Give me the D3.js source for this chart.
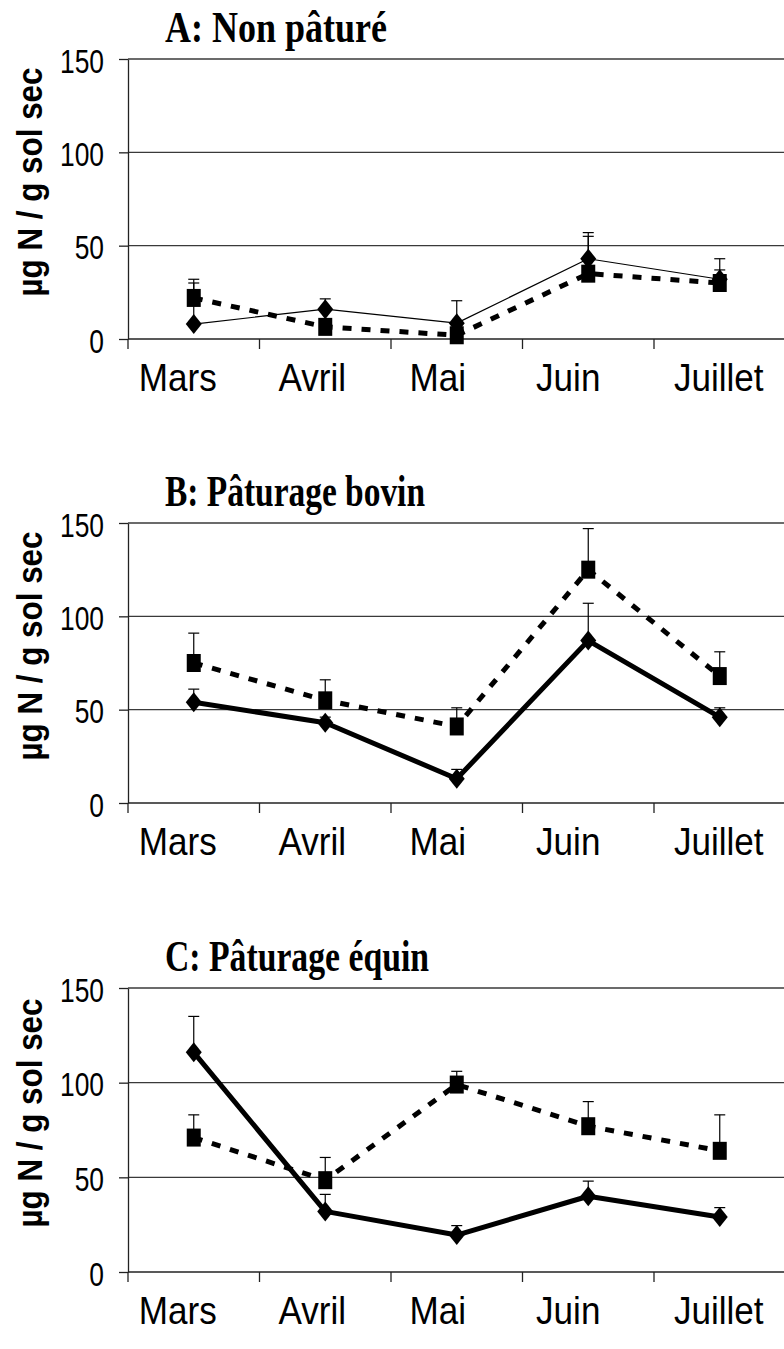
<!DOCTYPE html>
<html>
<head>
<meta charset="utf-8">
<script src="https://cdn.jsdelivr.net/npm/d3@7"></script>
<style>
  html, body { margin: 0; padding: 0; background: #fff; }
  svg { display: block; }
</style>
</head>
<body>
<div id="chart"></div>
<script>
// catégories et graduations
const months = ['Mars', 'Avril', 'Mai', 'Juin', 'Juillet']
const yTicks = [0, 50, 100, 150]
const panelTitles = ['A: Non pâturé', 'B: Pâturage bovin', 'C: Pâturage équin']
const yLabel = 'µg N / g sol sec'

// série losange (trait plein)
const diamondA = [8, 16, 8.5, 43, 32]
const diamondAErr = [22, 5.5, 12, 14, 5]
const diamondB = [54, 43, 13, 87, 46]
const diamondBErr = [7, 3, 5, 20, 5]
const diamondC = [116, 32, 19.5, 40, 29]
const diamondCErr = [19, 9, 5, 8, 5]

// série carré (pointillés)
const squareA = [22, 6.5, 2, 35, 30]
const squareAErr = [10, 3, 2, 20, 13]
const squareB = [75, 55, 41, 125, 68]
const squareBErr = [16, 11, 10, 22, 13]
const squareC = [71, 48.5, 99, 77, 64]
const squareCErr = [12, 12, 7, 13, 19]

const panels = [
  { title: panelTitles[0], titleLen: 222, dia: diamondA, diaErr: diamondAErr, sq: squareA, sqErr: squareAErr, diaWidth: 1.2 },
  { title: panelTitles[1], titleLen: 260, dia: diamondB, diaErr: diamondBErr, sq: squareB, sqErr: squareBErr, diaWidth: 5 },
  { title: panelTitles[2], titleLen: 264, dia: diamondC, diaErr: diamondCErr, sq: squareC, sqErr: squareCErr, diaWidth: 5 }
]

const width = 784, height = 1349
const plotLeft = 128
const plotTops = [59, 523, 988]
const plotBottoms = [339, 803, 1272]
const labelShift = [-16, -13, -19, -20, -1]

const svg = d3.select('#chart').append('svg')
  .attr('width', width)
  .attr('height', height)

svg.append('rect').attr('width', width).attr('height', height).attr('fill', '#fff')

const x = d3.scaleBand().domain(months).range([plotLeft, plotLeft + 5 * 131.5])

panels.forEach((p, i) => {
  const top = plotTops[i], bottom = plotBottoms[i]
  const y = d3.scaleLinear().domain([0, 150]).range([bottom, top])
  const g = svg.append('g')
  const cx = d => x(d) + x.bandwidth() / 2

  // grille horizontale
  g.selectAll('line.grid')
    .data(yTicks.filter(t => t > 0))
    .join('line')
    .attr('class', 'grid')
    .attr('x1', plotLeft).attr('x2', width)
    .attr('y1', d => y(d)).attr('y2', d => y(d))
    .attr('stroke', '#3a3a3a')
    .attr('stroke-width', 1.3)

  // axe Y
  const yAxis = g.append('g')
    .attr('transform', `translate(${plotLeft},0)`)
    .call(d3.axisLeft(y).tickValues(yTicks).tickSize(9).tickSizeOuter(0))
  yAxis.select('.domain').attr('stroke', '#222').attr('stroke-width', 1.3)
  yAxis.selectAll('.tick line').attr('stroke', '#222').attr('stroke-width', 1.3)
  yAxis.selectAll('.tick text')
    .attr('font-family', 'Liberation Sans, Arial, sans-serif')
    .attr('font-size', 33)
    .attr('fill', '#000')
    .attr('x', -24 / 0.8)
    .attr('dy', '0.4em')
    .attr('transform', 'scale(0.8,1)')

  // axe X
  g.append('line')
    .attr('x1', plotLeft).attr('x2', width)
    .attr('y1', y(0)).attr('y2', y(0))
    .attr('stroke', '#222').attr('stroke-width', 1.3)
  g.selectAll('line.xtick')
    .data(months)
    .join('line')
    .attr('class', 'xtick')
    .attr('x1', d => x(d)).attr('x2', d => x(d))
    .attr('y1', y(0)).attr('y2', y(0) + 10)
    .attr('stroke', '#222').attr('stroke-width', 1.3)

  g.selectAll('text.month')
    .data(months)
    .join('text')
    .attr('class', 'month')
    .attr('transform', (d, j) => `translate(${cx(d) + labelShift[j]},${bottom + 52}) scale(0.9,1)`)
    .attr('text-anchor', 'middle')
    .attr('font-family', 'Liberation Sans, Arial, sans-serif')
    .attr('font-size', 39)
    .attr('fill', '#000')
    .text(d => d)

  // titre du panneau
  g.append('text')
    .attr('x', 165)
    .attr('y', top - 17)
    .attr('font-family', 'Liberation Serif, Times New Roman, serif')
    .attr('font-weight', 'bold')
    .attr('font-size', 44)
    .attr('textLength', p.titleLen)
    .attr('lengthAdjust', 'spacingAndGlyphs')
    .attr('fill', '#000')
    .text(p.title)

  // titre axe Y
  g.append('text')
    .attr('transform', `translate(42,${(top + bottom) / 2 - 17}) rotate(-90)`)
    .attr('text-anchor', 'middle')
    .attr('font-family', 'Liberation Sans, Arial, sans-serif')
    .attr('font-weight', 'bold')
    .attr('font-size', 35)
    .attr('textLength', 229)
    .attr('lengthAdjust', 'spacingAndGlyphs')
    .attr('fill', '#000')
    .text(yLabel)

  const sqData = months.map((m, j) => ({ m, v: p.sq[j], e: p.sqErr[j] }))
  const diaData = months.map((m, j) => ({ m, v: p.dia[j], e: p.diaErr[j] }))

  // barres d'erreur
  const errs = sqData.concat(diaData)
  g.selectAll('line.err')
    .data(errs)
    .join('line')
    .attr('class', 'err')
    .attr('x1', d => cx(d.m)).attr('x2', d => cx(d.m))
    .attr('y1', d => y(d.v)).attr('y2', d => y(d.v + d.e))
    .attr('stroke', '#000').attr('stroke-width', 1.2)
  g.selectAll('line.cap')
    .data(errs)
    .join('line')
    .attr('class', 'cap')
    .attr('x1', d => cx(d.m) - 5.5).attr('x2', d => cx(d.m) + 5.5)
    .attr('y1', d => y(d.v + d.e)).attr('y2', d => y(d.v + d.e))
    .attr('stroke', '#000').attr('stroke-width', 1.2)

  const line = d3.line().x(d => cx(d.m)).y(d => y(d.v))

  g.append('path')
    .datum(sqData)
    .attr('d', line)
    .attr('fill', 'none')
    .attr('stroke', '#000')
    .attr('stroke-width', 5)
    .attr('stroke-dasharray', '9,10')

  g.append('path')
    .datum(diaData)
    .attr('d', line)
    .attr('fill', 'none')
    .attr('stroke', '#000')
    .attr('stroke-width', p.diaWidth)
    .attr('stroke-linejoin', 'round')

  g.selectAll('rect.sq')
    .data(sqData)
    .join('rect')
    .attr('class', 'sq')
    .attr('x', d => cx(d.m) - 7)
    .attr('y', d => y(d.v) - 9)
    .attr('width', 14)
    .attr('height', 18)
    .attr('fill', '#000')

  g.selectAll('path.dia')
    .data(diaData)
    .join('path')
    .attr('class', 'dia')
    .attr('d', 'M0,-10L8,0L0,10L-8,0Z')
    .attr('transform', d => `translate(${cx(d.m)},${y(d.v)})`)
    .attr('fill', '#000')
})
</script>
</body>
</html>
